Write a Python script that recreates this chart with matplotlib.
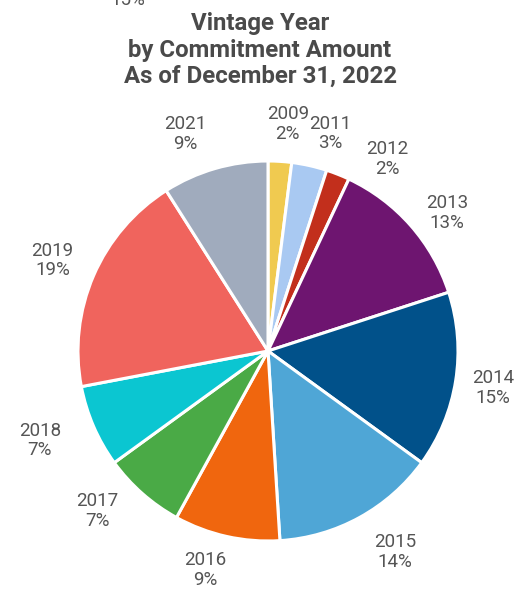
import numpy as np
import matplotlib.pyplot as plt

plt.rcParams["font.family"] = ["Roboto", "DejaVu Sans"]

# commitment share by vintage year (percent)
years = ["2009", "2011", "2012", "2013", "2014", "2015",
         "2016", "2017", "2018", "2019", "2021"]
shares = [2, 3, 2, 13, 15, 14, 9, 7, 7, 19, 9]
colors = ["#F0CA50", "#A9C9F2", "#C22F1C", "#6E1570", "#01518A", "#4FA6D6",
          "#F0660E", "#4AAA46", "#0BC6D1", "#F0645D", "#A0ABBD"]

# label placement tweaks: angular nudge (deg, clockwise) and radius
label_nudge = [1.4, 3.3, 10.3, 3.7, 0.3, -3.5, 3.4, 5.5, 2.0, -0.6, -4.6]
label_rad = [1.20, 1.19, 1.19, 1.19, 1.20, 1.25, 1.20, 1.23, 1.29, 1.23, 1.22]

W, H = 519, 592
fig = plt.figure(figsize=(W / 100, H / 100), dpi=100)
cx, cy, r = 268, 351, 190
ax = fig.add_axes([(cx - r) / W, (H - cy - r) / H, 2 * r / W, 2 * r / H])

wedges, _ = ax.pie(shares, colors=colors, startangle=90, counterclock=False,
                   radius=1, wedgeprops=dict(edgecolor="white", linewidth=2.2))
ax.set_xlim(-1, 1)
ax.set_ylim(-1, 1)
ax.axis("off")

for w, yr, s, dn, rr in zip(wedges, years, shares, label_nudge, label_rad):
    ang = np.deg2rad((w.theta1 + w.theta2) / 2 - dn)
    ax.text(rr * np.cos(ang), rr * np.sin(ang), f"{yr}\n{s}%",
            ha="center", va="center", fontsize=13.5, color="#555555",
            linespacing=1.12, clip_on=False)

title = "Vintage Year\nby Commitment Amount\nAs of December 31, 2022"
fig.text(260 / W, 1 - 50 / H, title, ha="center", va="center",
         fontsize=17.3, fontweight="bold", color="#4A4A4A", linespacing=1.2)

# trailing label from the chart above
fig.text(128 / W, 1 - 5 / H, "15%", ha="center", va="baseline",
         fontsize=13.5, color="#555555")

fig.savefig("out.png", dpi=100)
